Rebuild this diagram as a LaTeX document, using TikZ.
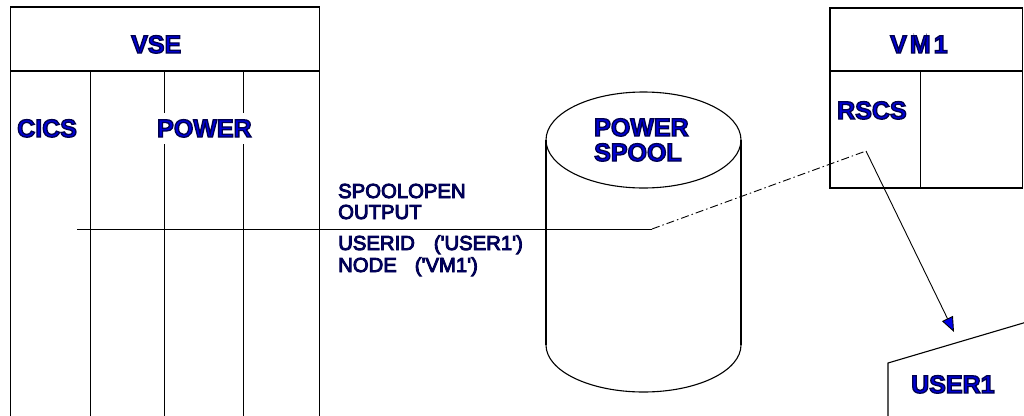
\documentclass[tikz,border=0pt]{standalone}
\usepackage{fontspec}
\setmainfont{Liberation Sans}[Ligatures=TeXOff]
\usetikzlibrary{arrows.meta}
\definecolor{titleblue}{RGB}{0,0,215}
\definecolor{textnavy}{RGB}{0,0,110}
\definecolor{arrowblue}{RGB}{0,0,230}
\newcommand\outl[2]{\special{pdf:literal direct 0 0 0.3 RG 2 Tr #1 w}#2\special{pdf:literal direct 0 Tr}}
\tikzset{
  boxline/.style={line width=1.1pt, black},
  conn/.style={line width=0.9pt, black},
  dashdotline/.style={conn, dash pattern=on 8pt off 3pt on 1.5pt off 3pt},
  title/.style={inner sep=0pt, anchor=base west, text=titleblue, font=\fontsize{25}{28}\selectfont\bfseries},
  small/.style={inner sep=0pt, anchor=base west, text=textnavy, font=\fontsize{20.3}{23}\selectfont},
}
\begin{document}
\begin{tikzpicture}[x=1pt,y=-1pt]
\useasboundingbox (0,0) rectangle (1024,415);
% VSE box
\draw[boxline] (10.5,416) -- (10.5,7) -- (319.5,7) -- (319.5,416);
\draw[boxline] (10.5,71) -- (319.5,71);
\draw[conn] (90,71) -- (90,416);
\draw[conn] (164,71) -- (164,416);
\draw[conn] (243,71) -- (243,416);
\node[title] (vse) at (131,53) {\outl{1.3}{VSE}};
\node[title] (cics) at (17,137) {\outl{1.3}{CICS}};
\node[title, fill=white, inner ysep=7pt] (power) at (157,137) {\outl{1.3}{POWER}};
% cylinder
\draw[boxline] (643.5,140) ellipse [x radius=97.5, y radius=48];
\draw[boxline] (546,140) -- (546,345);
\draw[boxline] (741,140) -- (741,345);
\draw[boxline] (546,345) arc[start angle=180, end angle=0, x radius=97.5, y radius=47];
\node[title] (pw) at (594,136) {\outl{1.3}{POWER}};
\node[title] (sp) at (594,161) {\outl{1.3}{SPOOL}};
% VM1 box
\draw[boxline] (830,8) rectangle (1022.5,188);
\draw[boxline] (830,71) -- (1022.5,71);
\draw[conn] (920,71) -- (920,188);
\node[title] (vm1) at (890,53) {\outl{1.3}{V\kern3pt M\kern3pt 1}};
\node[title] (rscs) at (837,119) {\outl{1.3}{RSCS}};
% USER1
\coordinate (u1a) at (1025,322.5);
\coordinate (u1b) at (888,363);
\coordinate (u1c) at (888,416);
\draw[boxline] (u1a) -- (u1b) -- (u1c);
\node[title] (user1) at (911,393) {\outl{1.3}{USER1}};
% texts
\node[small] (t1) at (338,198) {\outl{0.9}{SPOOLOPEN}};
\node[small] (t2) at (338,219) {\outl{0.9}{OUTPUT}};
\node[small] (t3) at (338,250) {\outl{0.9}{USERID\kern19pt('USER1')}};
\node[small] (t4) at (338,272) {\outl{0.9}{NODE\kern18pt('VM1')}};
% connectors
\coordinate (hstart) at (77,229);
\coordinate (hmid) at (652,229);
\coordinate (rscspt) at (866,151);
\coordinate (tip) at (954,332);
\draw[conn] (hstart) -- (hmid);
\draw[dashdotline] (hmid) -- (rscspt);
\draw[conn, -{Triangle[length=15pt, width=12pt, fill=arrowblue]}] (rscspt) -- (tip);
\end{tikzpicture}
\end{document}
